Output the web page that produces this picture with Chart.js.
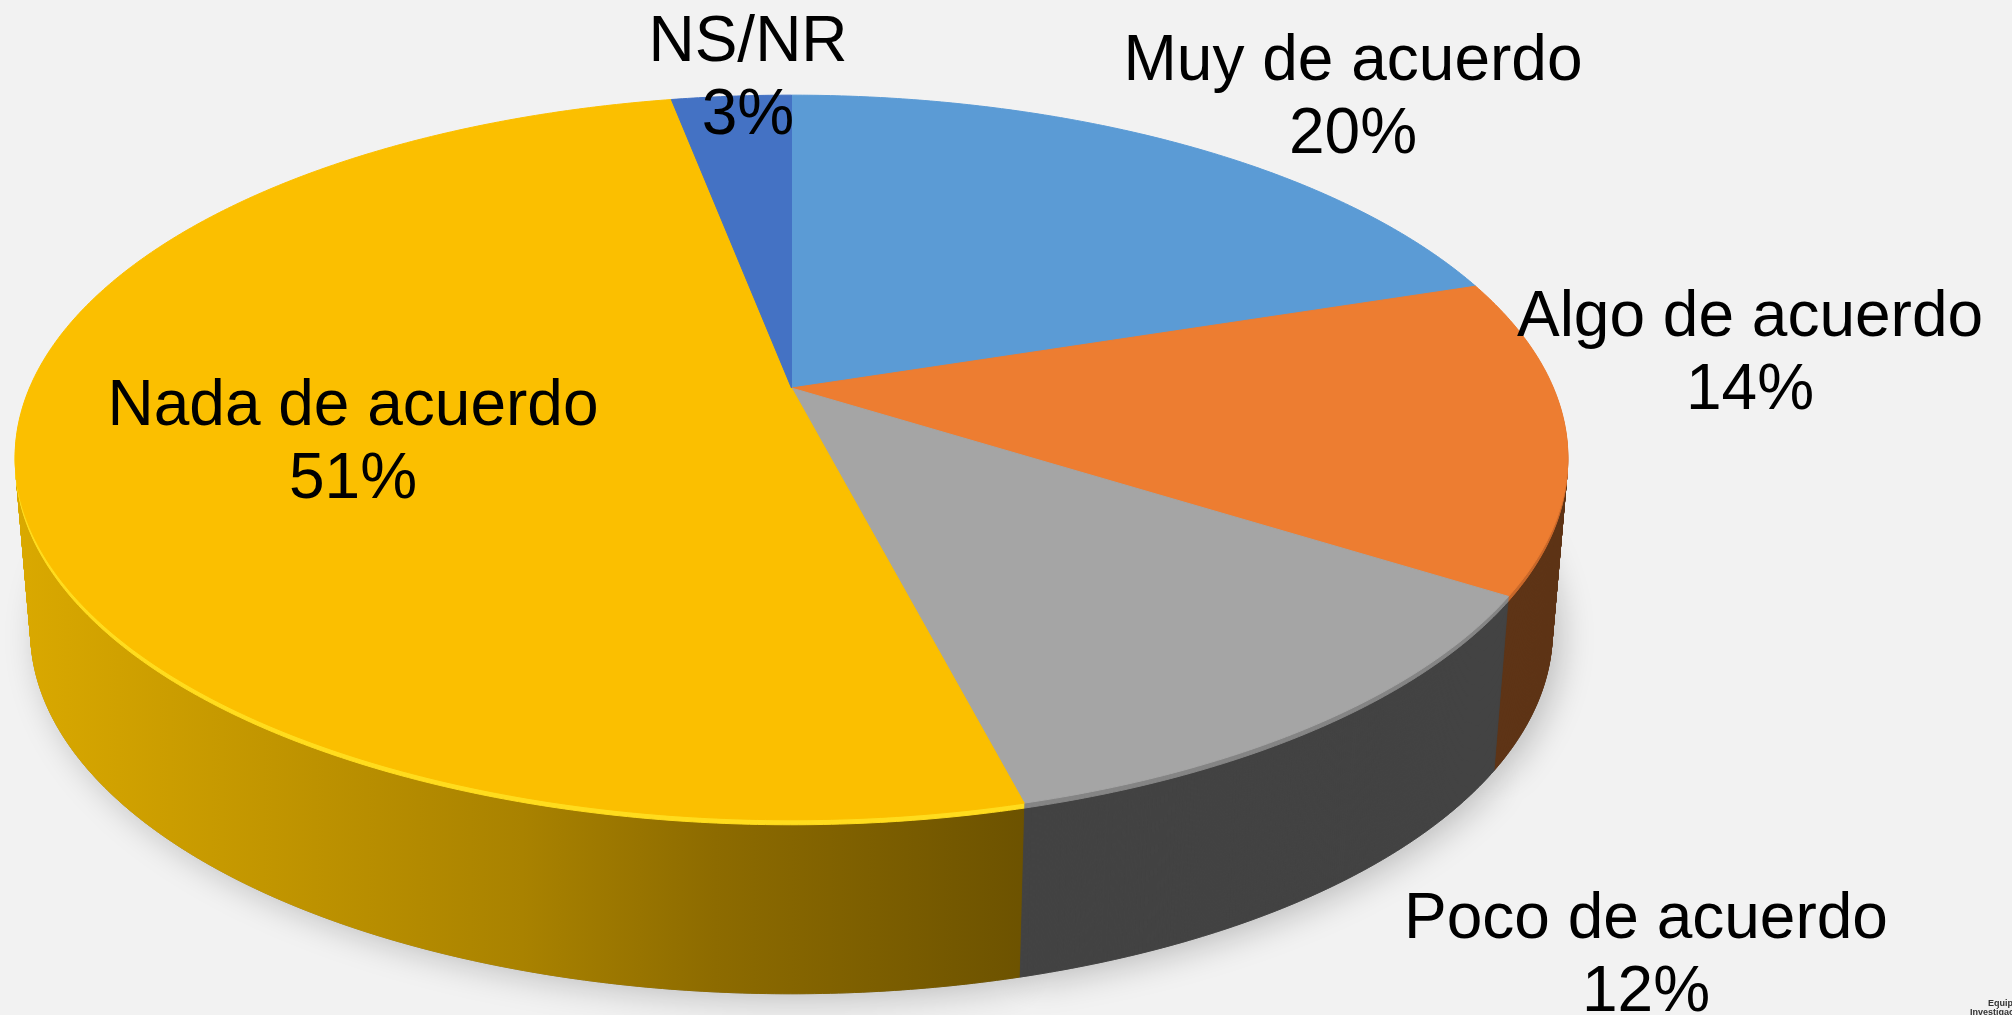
<!DOCTYPE html>
<html><head><meta charset="utf-8">
<script src="https://cdn.jsdelivr.net/npm/chart.js@4.4.1/dist/chart.umd.min.js"></script>
<style>
html,body{margin:0;padding:0;background:#F2F2F2;overflow:hidden}
#wrap{width:2012px;height:1015px;position:relative;background:#F2F2F2}
canvas{display:block}
</style></head>
<body><div id="wrap"><canvas id="c" width="2012" height="1015"></canvas></div>
<script>
// ---- data ----
const categories = ['Muy de acuerdo', 'Algo de acuerdo', 'Poco de acuerdo', 'Nada de acuerdo', 'NS/NR'];
const values = [20, 14, 12, 51, 3];
const percentLabels = ['20%', '14%', '12%', '51%', '3%'];

// ---- styles ----
const topColors = ['#5B9BD5', '#ED7D31', '#A5A5A5', '#FBBF00', '#4472C4'];
const rimColors = ['#4F87BB', '#C9682A', '#858585', '#FFDC1E', '#3A63AA'];
const sideColors = ['#3E6F9E', '#5E3416', '#434343', 'GRAD', '#2F5597'];
const labelPos = [[1353, 80], [1750, 336], [1646, 938], [353, 425], [748, 61]];
const lineGap = 73;
// perspective view of the pie plane (screen px)
const VIEW = { cx: 791.5, y0: 388, A: 762, B: 349, p: -0.1917, depth: 174, taper: 0.02 };
const TAU = Math.PI * 2;

// context wrapper projecting Chart.js' flat pie geometry into the tilted view
function projCtx(ctx, a, dy) {
  const R = a.outerRadius;
  const s = 1 - VIEW.taper * dy / VIEW.depth;
  const proj = (x, y) => {
    const u = (x - a.x) / R, v = (y - a.y) / R;
    const w = 1 + VIEW.p * v;
    return [VIEW.cx + s * VIEW.A * u / w, VIEW.y0 + VIEW.B * v / w + dy];
  };
  const over = {
    moveTo(x, y) { const q = proj(x, y); ctx.moveTo(q[0], q[1]); },
    lineTo(x, y) { const q = proj(x, y); ctx.lineTo(q[0], q[1]); },
    translate() {},
    arc(x, y, r, st, e, ccw) {
      let sweep = e - st;
      if (!ccw) { if (sweep < 0) sweep = (sweep % TAU) + TAU; if (sweep > TAU) sweep = TAU; }
      else { if (sweep > 0) sweep = (sweep % TAU) - TAU; if (sweep < -TAU) sweep = -TAU; }
      const n = Math.max(2, Math.ceil(Math.abs(sweep) / (Math.PI / 360)));
      for (let k = 0; k <= n; k++) {
        const t = st + sweep * k / n;
        const q = proj(x + r * Math.cos(t), y + r * Math.sin(t));
        ctx.lineTo(q[0], q[1]);
      }
    }
  };
  return new Proxy(ctx, {
    get(t, p) { if (p in over) return over[p]; const v = t[p]; return typeof v === 'function' ? v.bind(t) : v; },
    set(t, p, val) { t[p] = val; return true; }
  });
}
function drawWith(arc, pctx, fill) {
  const f = Object.create(arc);
  f.options = Object.assign({}, arc.options, { backgroundColor: fill, borderColor: fill, borderWidth: 1 });
  arc.draw.call(f, pctx);
}

const pie3d = {
  id: 'pie3d',
  beforeDatasetsDraw(chart) {
    const ctx = chart.ctx;
    const arcs = chart.getDatasetMeta(0).data;
    const a = arcs[0];
    const grad = ctx.createLinearGradient(15, 0, 1030, 0);
    grad.addColorStop(0, '#DAA900');
    grad.addColorStop(0.5, '#A98200');
    grad.addColorStop(0.69, '#8D6B00');
    grad.addColorStop(1, '#6C5200');
    // soft shadow under the pie
    ctx.save();
    ctx.shadowColor = 'rgba(0,0,0,0.22)';
    ctx.shadowBlur = 34;
    ctx.shadowOffsetX = 8;
    ctx.shadowOffsetY = 6;
    const sh = projCtx(ctx, a, VIEW.depth);
    arcs.forEach(arc => drawWith(arc, sh, '#9A9A9A'));
    ctx.restore();
    // side walls, back to front
    for (let d = VIEW.depth; d >= 1; d--) {
      const pc = projCtx(ctx, a, d);
      arcs.forEach((arc, i) => {
        const c = d <= 5 ? rimColors[i] : (sideColors[i] === 'GRAD' ? grad : sideColors[i]);
        drawWith(arc, pc, c);
      });
    }
    // top face: Chart.js arcs with their own options
    const top = projCtx(ctx, a, 0);
    arcs.forEach(arc => arc.draw(top));
    return false;
  },
  afterDraw(chart) {
    const ctx = chart.ctx;
    ctx.save();
    ctx.fillStyle = '#000000';
    ctx.textAlign = 'center';
    ctx.textBaseline = 'alphabetic';
    ctx.font = '64px "Liberation Sans", Arial, sans-serif';
    categories.forEach((c, i) => {
      const [x, y] = labelPos[i];
      ctx.fillText(c, x, y);
      ctx.fillText(percentLabels[i], x, y + lineGap);
    });
    ctx.font = 'bold 9px "Liberation Sans", Arial, sans-serif';
    ctx.textAlign = 'left';
    ctx.fillStyle = '#333333';
    ctx.fillText('Equipo', 1988, 1006);
    ctx.fillText('Investigación', 1970, 1015);
    ctx.restore();
  }
};

new Chart(document.getElementById('c'), {
  type: 'pie',
  data: {
    labels: categories,
    datasets: [{
      data: values,
      backgroundColor: topColors,
      borderColor: topColors,
      borderWidth: 1
    }]
  },
  options: {
    responsive: false,
    animation: false,
    events: [],
    layout: { padding: 0 },
    plugins: { legend: { display: false }, tooltip: { enabled: false } }
  },
  plugins: [pie3d]
});
</script>
</body></html>
